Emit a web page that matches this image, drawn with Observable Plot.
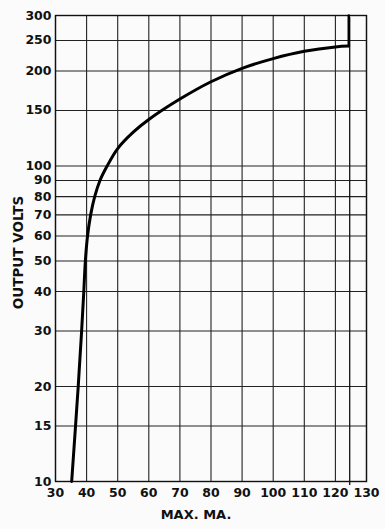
<!DOCTYPE html>
<html>
<head>
<meta charset="utf-8">
<script src="https://cdn.jsdelivr.net/npm/d3@7"></script>
<script src="https://cdn.jsdelivr.net/npm/@observablehq/plot@0.6"></script>
<style>
  html, body { margin: 0; padding: 0; background: #fbfbfb; }
  #chart svg { display: block; }
</style>
</head>
<body>
<div id="chart"></div>
<script>
// Curve: max current (mA) vs output volts
const currentMA = [35.2, 37.3, 38.4, 39.1, 39.6, 40.3, 41.3, 42.6, 44.3, 46.6, 50, 55, 60, 70, 80, 90, 100, 110, 120, 124.3];
const outputVolts = [10, 20, 30, 40, 50, 60, 70, 80, 90, 100, 113.6, 128, 140.4, 163, 185, 204, 219, 231, 238.5, 240];
// Vertical limit segment at the end of the curve
const limitMA = [124.3, 124.3];
const limitVolts = [240, 300];

const xTicks = [30, 40, 50, 60, 70, 80, 90, 100, 110, 120, 130];
const yTicks = [10, 15, 20, 30, 40, 50, 60, 70, 80, 90, 100, 150, 200, 250, 300];
const markerTick = [124.6];

const curve = currentMA.map((x, i) => ({x, y: outputVolts[i]}));
const limit = limitMA.map((x, i) => ({x, y: limitVolts[i]}));

const font = "'DejaVu Sans', sans-serif";

const chart = Plot.plot({
  width: 385,
  height: 529,
  marginLeft: 55,
  marginRight: 19,
  marginTop: 15,
  marginBottom: 48,
  style: {fontFamily: font, fontWeight: "bold", fontSize: "12px", background: "#fbfbfb", color: "#111"},
  x: {type: "linear", domain: [30, 130]},
  y: {type: "log", domain: [10, 300]},
  marks: [
    Plot.gridX(xTicks, {stroke: "#222", strokeOpacity: 1, strokeWidth: 1.1}),
    Plot.gridY(yTicks, {stroke: "#222", strokeOpacity: 1, strokeWidth: 1.1}),
    Plot.frame({stroke: "#111", strokeWidth: 1.4}),
    Plot.axisY(yTicks, {tickSize: 0, tickPadding: 4, tickFormat: d => String(d), fontSize: 12.5, label: null}),
    Plot.axisX(xTicks, {tickSize: 0, tickPadding: 7, tickFormat: d => String(d), label: null, fontSize: 12.5}),
    Plot.tickX(markerTick, {y1: 10, stroke: "#111", strokeWidth: 1.3, insetTop: -2, dy: 4}),
    Plot.line(curve, {x: "x", y: "y", curve: "catmull-rom", stroke: "#000", strokeWidth: 3}),
    Plot.line(limit, {x: "x", y: "y", stroke: "#000", strokeWidth: 2.5}),
    Plot.text(["OUTPUT VOLTS"], {frameAnchor: "left", textAnchor: "middle", rotate: -90, dx: -37, dy: 4, fontSize: 13.5, fontWeight: "bold", fill: "#111", style: "letter-spacing:0.3px"}),
    Plot.text(["MAX. MA."], {frameAnchor: "bottom", dy: 37, dx: -15, fontSize: 13, fontWeight: "bold", fill: "#111", style: "letter-spacing:0.5px"})
  ]
});
document.getElementById("chart").appendChild(chart);
</script>
</body>
</html>
